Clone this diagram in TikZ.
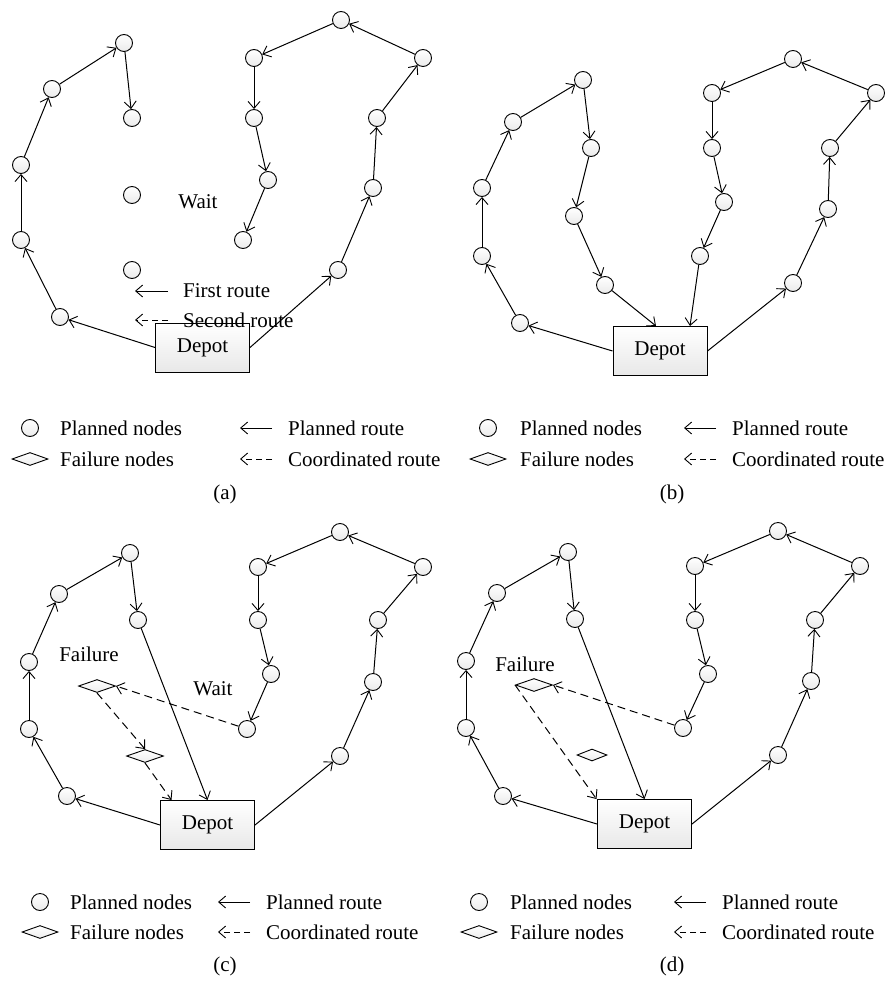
\documentclass[tikz,border=0pt]{standalone}
\usepackage{fontspec}
\setmainfont{Liberation Serif}
\usetikzlibrary{arrows.meta,shapes.geometric}
\tikzset{
  pn/.style={circle,draw,line width=0.9pt,minimum size=17pt,inner sep=0pt,top color=white,bottom color=gray!16},
  fn/.style={diamond,draw,line width=0.9pt,minimum width=37pt,minimum height=13pt,inner sep=0pt,top color=white,bottom color=gray!14},
  depotbox/.style={rectangle,draw,line width=1pt,minimum width=94pt,minimum height=49pt,top color=white,bottom color=gray!18,font=\fontsize{21}{24}\selectfont},
  route/.style={line width=1pt,-{Straight Barb[length=7pt,width=12pt,line width=0.9pt]}},
  coord/.style={route,dash pattern=on 8pt off 5pt},
  lbl/.style={font=\fontsize{21}{24}\selectfont,inner sep=0pt},
  ltxt/.style={lbl,anchor=west},
}
\newcommand\legendset[8]{%
  \node[pn] (#1c) at (#2,#7) {};
  \node[fn,minimum width=36pt] (#1d) at (#2,#8) {};
  \node[ltxt] (#1t1) at (#3,#7) {Planned nodes};
  \node[ltxt] (#1t2) at (#3,#8) {Failure nodes};
  \coordinate (#1p0) at (#4,#7); \coordinate (#1p1) at (#5,#7);
  \coordinate (#1q0) at (#4,#8); \coordinate (#1q1) at (#5,#8);
  \draw[route] (#1p1) -- (#1p0);
  \draw[coord,dash pattern=on 6pt off 4pt] (#1q1) -- (#1q0);
  \node[ltxt] (#1t3) at (#6,#7) {Planned route};
  \node[ltxt] (#1t4) at (#6,#8) {Coordinated route};
}
\begin{document}
\begin{tikzpicture}[x=1pt,y=-1pt]
\useasboundingbox (0,0) rectangle (895,981);
\fill[white] (0,0) rectangle (895,981);

% ================= panel (a) =================
\node[depotbox] (dA) at (202.5,347.5) {Depot};
\foreach \n/\x/\y in {a1/124/43,a2/52/89,a3/21/165,a4/21/240,a5/60/317,a6/132/118,a7/132/195,a8/132/270,
  r1/338/270,r2/373/188,r3/377/118,r4/423/58,r5/341/20,r6/254/58,r7/254/118,r8/268/180,r9/243/240}
  \node[pn] (A\n) at (\x,\y) {};
\draw[route] (dA.west) -- (Aa5);
\draw[route] (Aa5) -- (Aa4);
\draw[route] (Aa4) -- (Aa3);
\draw[route] (Aa3) -- (Aa2);
\draw[route] (Aa2) -- (Aa1);
\draw[route] (Aa1) -- (Aa6);
\draw[route] (dA.east) -- (Ar1);
\draw[route] (Ar1) -- (Ar2);
\draw[route] (Ar2) -- (Ar3);
\draw[route] (Ar3) -- (Ar4);
\draw[route] (Ar4) -- (Ar5);
\draw[route] (Ar5) -- (Ar6);
\draw[route] (Ar6) -- (Ar7);
\draw[route] (Ar7) -- (Ar8);
\draw[route] (Ar8) -- (Ar9);
\node[lbl] (waitA) at (198,202) {Wait};
\coordinate (fr0) at (135,291); \coordinate (fr1) at (168,291);
\coordinate (sr0) at (135,320); \coordinate (sr1) at (168,320);
\draw[route] (fr1) -- (fr0);
\draw[coord,dash pattern=on 6pt off 4pt] (sr1) -- (sr0);
\node[ltxt] (frt) at (183,291) {First route};
\node[ltxt] (srt) at (183,320) {Second route};

% ================= panel (b) =================
\node[depotbox] (dB) at (660,351) {Depot};
\foreach \n/\x/\y in {b1/520/323,b2/482/256,b3/482/188,b4/513/122,b5/583/80,b6/591/148,b7/574/216,b8/605/285,
  c1/793/283,c2/828/209,c3/830/148,c4/876/93,c5/793/59,c6/712/93,c7/712/148,c8/724/202,c9/700/256}
  \node[pn] (B\n) at (\x,\y) {};
\draw[route] (dB.west) -- (Bb1);
\draw[route] (Bb1) -- (Bb2);
\draw[route] (Bb2) -- (Bb3);
\draw[route] (Bb3) -- (Bb4);
\draw[route] (Bb4) -- (Bb5);
\draw[route] (Bb5) -- (Bb6);
\draw[route] (Bb6) -- (Bb7);
\draw[route] (Bb7) -- (Bb8);
\draw[route] (Bb8) -- ([xshift=-4pt]dB.north);
\draw[route] (dB.east) -- (Bc1);
\draw[route] (Bc1) -- (Bc2);
\draw[route] (Bc2) -- (Bc3);
\draw[route] (Bc3) -- (Bc4);
\draw[route] (Bc4) -- (Bc5);
\draw[route] (Bc5) -- (Bc6);
\draw[route] (Bc6) -- (Bc7);
\draw[route] (Bc7) -- (Bc8);
\draw[route] (Bc8) -- (Bc9);
\draw[route] (Bc9) -- ([xshift=30pt]dB.north);

% ================= panel (c) =================
\node[depotbox] (dC) at (207.5,825) {Depot};
\foreach \n/\x/\y in {a5/67/796,a4/29/729,a3/29/662,a2/59/594,a1/130/553,a6/138/620,
  r1/340/756,r2/373/682,r3/378/620,r4/423/567,r5/340/532,r6/258/567,r7/258/620,r8/271/674,r9/247/729}
  \node[pn] (C\n) at (\x,\y) {};
\node[fn] (Cf1) at (97,686) {};
\node[fn] (Cf2) at (145,756) {};
\draw[route] (dC.west) -- (Ca5);
\draw[route] (Ca5) -- (Ca4);
\draw[route] (Ca4) -- (Ca3);
\draw[route] (Ca3) -- (Ca2);
\draw[route] (Ca2) -- (Ca1);
\draw[route] (Ca1) -- (Ca6);
\draw[route] (Ca6) -- (dC.north);
\draw[route] (dC.east) -- (Cr1);
\draw[route] (Cr1) -- (Cr2);
\draw[route] (Cr2) -- (Cr3);
\draw[route] (Cr3) -- (Cr4);
\draw[route] (Cr4) -- (Cr5);
\draw[route] (Cr5) -- (Cr6);
\draw[route] (Cr6) -- (Cr7);
\draw[route] (Cr7) -- (Cr8);
\draw[route] (Cr8) -- (Cr9);
\draw[coord] (Cr9) -- (Cf1.east);
\draw[coord] (Cf1.south) -- (Cf2.north);
\draw[coord] (Cf2.south) -- ([xshift=-36pt]dC.north);
\node[lbl] (failC) at (89,654) {Failure};
\node[lbl] (waitC) at (213,689) {Wait};

% ================= panel (d) =================
\node[depotbox] (dD) at (644.5,824) {Depot};
\foreach \n/\x/\y in {a5/503/796,a4/466/728,a3/466/661,a2/497/593,a1/568/552,a6/575/619,
  r1/778/755,r2/811/681,r3/815/620,r4/860/566,r5/778/531,r6/695/566,r7/695/620,r8/708/674,r9/683/728}
  \node[pn] (D\n) at (\x,\y) {};
\node[fn] (Df1) at (534,685) {};
\node[fn,minimum width=30pt,minimum height=12pt] (Df2) at (592,755) {};
\draw[route] (dD.west) -- (Da5);
\draw[route] (Da5) -- (Da4);
\draw[route] (Da4) -- (Da3);
\draw[route] (Da3) -- (Da2);
\draw[route] (Da2) -- (Da1);
\draw[route] (Da1) -- (Da6);
\draw[route] (Da6) -- (dD.north);
\draw[route] (dD.east) -- (Dr1);
\draw[route] (Dr1) -- (Dr2);
\draw[route] (Dr2) -- (Dr3);
\draw[route] (Dr3) -- (Dr4);
\draw[route] (Dr4) -- (Dr5);
\draw[route] (Dr5) -- (Dr6);
\draw[route] (Dr6) -- (Dr7);
\draw[route] (Dr7) -- (Dr8);
\draw[route] (Dr8) -- (Dr9);
\draw[coord] (Dr9) -- (Df1.east);
\draw[coord] (Df1.west) -- ([xshift=-48pt]dD.north);
\node[lbl] (failD) at (525,664) {Failure};

% ================= legends and captions =================
\legendset{LA}{30}{60}{240}{272}{288}{428}{459}
\legendset{LB}{488}{520}{684}{716}{732}{428}{459}
\legendset{LC}{40}{70}{218}{250}{266}{902}{932}
\legendset{LD}{479}{510}{674}{706}{722}{902}{932}
\node[lbl] (capA) at (225,494) {(a)};
\node[lbl] (capB) at (672,494) {(b)};
\node[lbl] (capC) at (225,966) {(c)};
\node[lbl] (capD) at (672,966) {(d)};
\end{tikzpicture}
\end{document}
